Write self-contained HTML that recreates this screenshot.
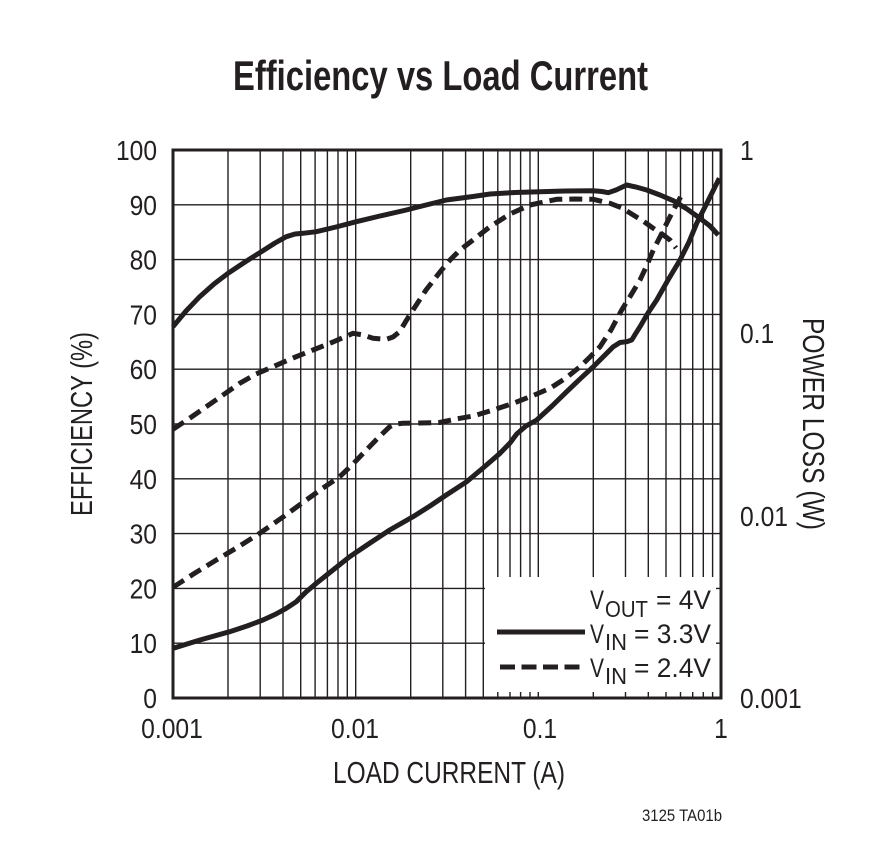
<!DOCTYPE html>
<html>
<head>
<meta charset="utf-8">
<style>
  html,body{margin:0;padding:0;background:#fff;}
  svg{display:block;}
  text{font-family:"Liberation Sans", Arial, sans-serif; fill:#231f20;}
</style>
</head>
<body>
<svg width="892" height="852" viewBox="0 0 892 852" xmlns="http://www.w3.org/2000/svg">
  <rect x="0" y="0" width="892" height="852" fill="#fff"/>

  <!-- Title -->
  <text x="233" y="90" font-size="42" font-weight="bold" textLength="415" lengthAdjust="spacingAndGlyphs">Efficiency vs Load Current</text>

  <!-- Grid -->
  <g stroke="#231f20" stroke-width="1.4" fill="none">
    <!-- horizontal -->
    <path d="M173,204.8H721 M173,259.6H721 M173,314.4H721 M173,369.2H721 M173,424H721 M173,478.8H721 M173,533.6H721 M173,588.4H721 M173,643.2H721"/>
    <!-- vertical -->
    <path d="M228,150V698 M260.2,150V698 M283,150V698 M300.7,150V698 M315.1,150V698 M327.4,150V698 M338,150V698 M347.3,150V698 M355.7,150V698
             M410.7,150V698 M442.8,150V698 M465.6,150V698 M483.3,150V698 M497.8,150V698 M510,150V698 M520.6,150V698 M530,150V698 M538.3,150V698
             M593.3,150V698 M625.5,150V698 M648.3,150V698 M666,150V698 M680.5,150V698 M692.7,150V698 M703.3,150V698 M712.6,150V698"/>
  </g>

  <!-- Legend box (covers grid) -->
  <rect x="485" y="577" width="231" height="115" fill="#fff"/>

  <!-- Frame -->
  <rect x="173" y="150" width="548" height="548" fill="none" stroke="#231f20" stroke-width="3"/>

  <!-- Curves -->
  <g fill="none" stroke="#231f20" stroke-width="5" stroke-linejoin="round">
    <!-- Solid efficiency 3.3V -->
    <polyline points="173,326.7 186,311 199.7,296.7 214,284 228,273.3 245,262 261.3,251.7 275,243 286.3,236.7 295,234 303,233.3 316.3,231.7 336,227 356.3,221.7 380,216 406.3,210 426,205 446.3,200 473,196.5 490,194 515,192.5 540,191.7 565,191 593.3,190.7 602,191.5 608.3,192.7 616,190 626.7,185 636,187 646.7,190 660,195 673.3,200.7 687,209 700,218.3 710,226 718.3,235"/>
    <!-- Solid power loss 3.3V -->
    <polyline points="173,648.3 200,640 229.7,631.7 247,626 263,620 276,614 286.3,608.3 296.3,601.7 306,592 316.3,583.3 333,570 349.7,556.7 370,543 389.7,530 413,516.7 430,506 446.3,495 466.7,481.7 483,468 500,453.3 510,443 516.7,434 526,426 536.7,420 552,406 566.7,391.7 580,379 593.3,366.7 603,357 613.3,346.7 620,342.5 626.7,341.7 631.7,340 636,333 640,326.7 648,313 656.7,300 668,280 680,260 689,242 696.7,223.3 708,201 719.3,178.3"/>
  </g>
  <g fill="none" stroke="#231f20" stroke-width="5" stroke-linejoin="round" stroke-dasharray="13 7">
    <!-- Dashed efficiency 2.4V -->
    <polyline points="173,429.3 190,418 206.3,406.7 223,395 239.7,383.3 256,374 273,366.7 293,358 313,350 333,342 353,333.3 363,335 373,338.3 386.3,339.3 393,337 399.7,331.7 406,321 413,310 426,290 440,272 450,260 460,250 473,240 490,226.7 510,214 530,205 556.7,199.3 575,199 593.3,199.3 610,203.3 622,208 633.3,215 643,221 653.3,228.3 662,234 670,240 676,248"/>
    <!-- Dashed power loss 2.4V -->
    <polyline points="173,587.3 195,573 216.3,560 238,547 259.7,533.3 283,517 306.3,500 323,488 339.7,476.7 353,464 366.3,450 378,438 389.7,426.7 396,424 403,423.3 420,423 439.7,422.5 456,419 473.3,416 493,410 513.3,403.3 532,396 550,388.3 566,378 580,366.7 590,357 600,346.7 611,330 621.7,310 631,295 640,280 647,265 653.3,250 660,237 666.7,223.3 674,209 681.7,195"/>
  </g>

  <!-- Legend -->
  <path d="M497,632H585" stroke="#231f20" stroke-width="5" fill="none"/>
  <path d="M500,667H582" stroke="#231f20" stroke-width="5" fill="none" stroke-dasharray="15 6.5"/>

  <text x="590" y="609" font-size="27" textLength="14" lengthAdjust="spacingAndGlyphs">V</text>
  <text x="605" y="617" font-size="23" textLength="43" lengthAdjust="spacingAndGlyphs">OUT</text>
  <text x="711" y="609" font-size="27" text-anchor="end" textLength="55" lengthAdjust="spacingAndGlyphs">= 4V</text>

  <text x="590" y="643" font-size="27" textLength="14" lengthAdjust="spacingAndGlyphs">V</text>
  <text x="605" y="650" font-size="23" textLength="22" lengthAdjust="spacingAndGlyphs">IN</text>
  <text x="711" y="643" font-size="27" text-anchor="end" textLength="77" lengthAdjust="spacingAndGlyphs">= 3.3V</text>

  <text x="590" y="677" font-size="27" textLength="14" lengthAdjust="spacingAndGlyphs">V</text>
  <text x="605" y="684" font-size="23" textLength="22" lengthAdjust="spacingAndGlyphs">IN</text>
  <text x="711" y="677" font-size="27" text-anchor="end" textLength="77" lengthAdjust="spacingAndGlyphs">= 2.4V</text>

  <!-- Left axis labels -->
  <g font-size="28" text-anchor="end">
    <text x="157" y="160" textLength="41" lengthAdjust="spacingAndGlyphs">100</text>
    <text x="157" y="214.8" textLength="27.4" lengthAdjust="spacingAndGlyphs">90</text>
    <text x="157" y="269.6" textLength="27.4" lengthAdjust="spacingAndGlyphs">80</text>
    <text x="157" y="324.4" textLength="27.4" lengthAdjust="spacingAndGlyphs">70</text>
    <text x="157" y="379.2" textLength="27.4" lengthAdjust="spacingAndGlyphs">60</text>
    <text x="157" y="434" textLength="27.4" lengthAdjust="spacingAndGlyphs">50</text>
    <text x="157" y="488.8" textLength="27.4" lengthAdjust="spacingAndGlyphs">40</text>
    <text x="157" y="543.6" textLength="27.4" lengthAdjust="spacingAndGlyphs">30</text>
    <text x="157" y="598.4" textLength="27.4" lengthAdjust="spacingAndGlyphs">20</text>
    <text x="157" y="653.2" textLength="27.4" lengthAdjust="spacingAndGlyphs">10</text>
    <text x="157" y="708" textLength="13.7" lengthAdjust="spacingAndGlyphs">0</text>
  </g>

  <!-- Right axis labels -->
  <g font-size="28">
    <text x="740" y="160" textLength="13.7" lengthAdjust="spacingAndGlyphs">1</text>
    <text x="740" y="343" textLength="34.2" lengthAdjust="spacingAndGlyphs">0.1</text>
    <text x="740" y="526" textLength="48" lengthAdjust="spacingAndGlyphs">0.01</text>
    <text x="740" y="708" textLength="61.7" lengthAdjust="spacingAndGlyphs">0.001</text>
  </g>

  <!-- X axis labels -->
  <g font-size="28" text-anchor="middle">
    <text x="172" y="738" textLength="61.7" lengthAdjust="spacingAndGlyphs">0.001</text>
    <text x="355" y="738" textLength="48" lengthAdjust="spacingAndGlyphs">0.01</text>
    <text x="540" y="738" textLength="34.2" lengthAdjust="spacingAndGlyphs">0.1</text>
    <text x="721" y="738" textLength="13.7" lengthAdjust="spacingAndGlyphs">1</text>
  </g>

  <!-- Axis titles -->
  <text x="449" y="783" font-size="31" text-anchor="middle" textLength="232" lengthAdjust="spacingAndGlyphs">LOAD CURRENT (A)</text>
  <text transform="translate(92,424) rotate(-90)" x="0" y="0" font-size="31" text-anchor="middle" textLength="184" lengthAdjust="spacingAndGlyphs">EFFICIENCY (%)</text>
  <text transform="translate(803,424) rotate(90)" x="0" y="0" font-size="31" text-anchor="middle" textLength="212" lengthAdjust="spacingAndGlyphs">POWER LOSS (W)</text>

  <!-- Footnote -->
  <text x="642" y="821" font-size="17" textLength="80" lengthAdjust="spacingAndGlyphs">3125 TA01b</text>
</svg>
</body>
</html>
